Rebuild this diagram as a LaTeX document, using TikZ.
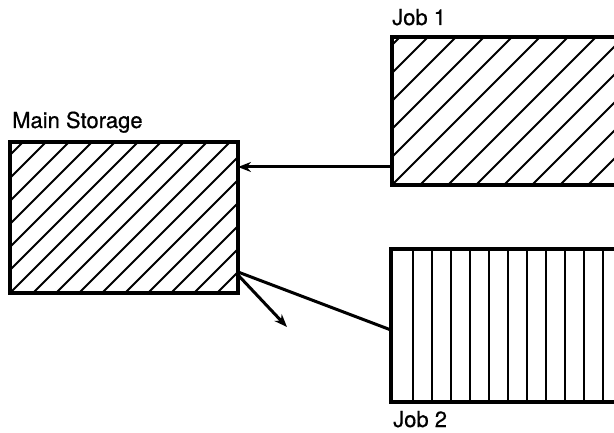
\documentclass[tikz,border=0pt]{standalone}
\usepackage{fontspec}
\setmainfont[FakeBold=0.6]{TeX Gyre Heros}
\usetikzlibrary{arrows.meta,calc}
\tikzset{
  x=1pt,y=1pt,
  box/.style={draw=black,line width=3.6pt,rectangle,inner sep=0pt,outer sep=0pt},
  diaghatch/.style={path picture={
      \foreach \i in {-12,...,12}{
        \draw[line width=1.9pt] ($(path picture bounding box.south west)+(\i*#1,0)$) -- ++(300,300);
      }}},
  verthatch/.style={path picture={
      \foreach \i in {1,...,14}{
        \draw[line width=1.9pt] ($(path picture bounding box.south west)+(3+\i*19,0)$) -- ++(0,200);
      }}},
  conn/.style={line width=3pt},
  arr/.style={conn,-{Stealth[length=13pt,width=10pt]}},
  lbl/.style={font=\fontsize{22}{24}\selectfont,inner sep=0pt,anchor=base west}
}
\begin{document}
\begin{tikzpicture}
\useasboundingbox (0,0) rectangle (614,-433);
\clip (0,0) rectangle (614,-433);
\node[box,diaghatch=23,minimum width=228pt,minimum height=151pt] (main) at (124,-217.5) {};
\node[box,diaghatch=28,minimum width=248pt,minimum height=148pt] (job1) at (516,-111) {};
\node[box,verthatch,minimum width=249pt,minimum height=153pt] (job2) at (515.5,-325.5) {};
\node[lbl] (lmain) at (12,-128) {Main Storage};
\node[lbl] (ljob1) at (392,-25) {Job 1};
\node[lbl] (ljob2) at (393,-427) {Job 2};
\coordinate (out) at (287,-327);
\draw[arr] ($(job1.south west)+(0,18)$) -- ($(main.north east)+(0,-25)$);
\draw[conn] ($(job2.west)+(0,-4.5)$) -- ($(main.south east)+(0,21)$);
\draw[arr] ($(main.south east)+(0,18)$) -- (out);
\end{tikzpicture}
\end{document}
